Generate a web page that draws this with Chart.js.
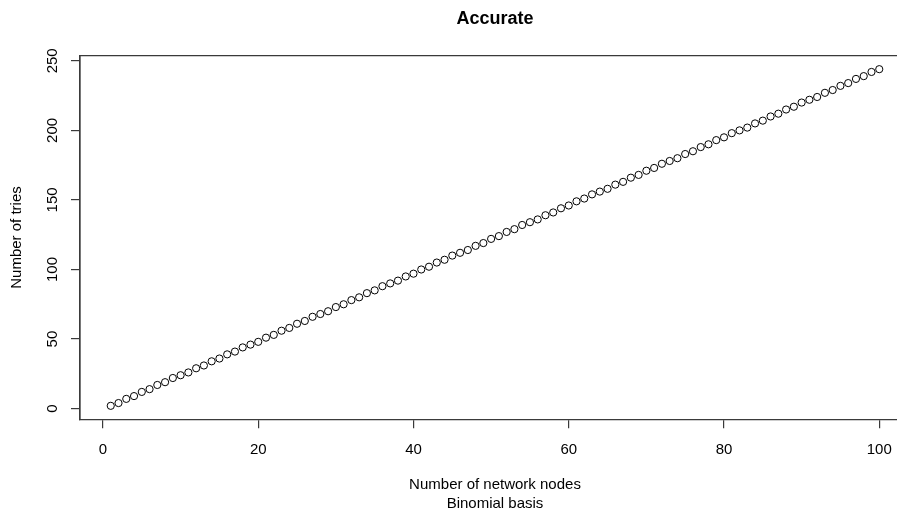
<!DOCTYPE html>
<html>
<head>
<meta charset="utf-8">
<script src="https://cdn.jsdelivr.net/npm/chart.js@4/dist/chart.umd.min.js"></script>
<style>
html,body{margin:0;padding:0;background:#fff;overflow:hidden;}
#wrap{width:915px;height:510px;}
</style>
</head>
<body>
<div id="wrap"><canvas id="c" width="915" height="510"></canvas></div>
<script>
// Number of network nodes (x) and number of tries (y)
const nodes = [];
for (let i = 1; i <= 100; i++) nodes.push(i);
const tries = [
  2, 4, 7, 9, 12, 14, 17, 19, 22, 24,
  26, 29, 31, 34, 36, 39, 41, 44, 46, 48,
  51, 53, 56, 58, 61, 63, 66, 68, 70, 73,
  75, 78, 80, 83, 85, 88, 90, 92, 95, 97,
  100, 102, 105, 107, 110, 112, 114, 117, 119, 122,
  124, 127, 129, 132, 134, 136, 139, 141, 144, 146,
  149, 151, 154, 156, 158, 161, 163, 166, 168, 171,
  173, 176, 178, 180, 183, 185, 188, 190, 193, 195,
  198, 200, 202, 205, 207, 210, 212, 215, 217, 220,
  222, 224, 227, 229, 232, 234, 237, 239, 242, 244
];
const xTicks = [0, 20, 40, 60, 80, 100];
const yTicks = [0, 50, 100, 150, 200, 250];
const titleText = 'Accurate';
const xTitle = ['Number of network nodes', 'Binomial basis'];
const yTitle = 'Number of tries';

const FAM = '"Liberation Sans", Arial, Helvetica, sans-serif';
const LINE = '#3a3a3a';

const boxPlugin = {
  id: 'rbox',
  afterDraw(chart) {
    const {ctx, chartArea: a} = chart;
    ctx.save();
    ctx.strokeStyle = LINE;
    ctx.lineWidth = 1.2;
    ctx.beginPath();
    ctx.moveTo(a.left, a.bottom);
    ctx.lineTo(a.left, a.top);
    ctx.lineTo(a.right + 2, a.top);
    ctx.stroke();
    ctx.restore();
  }
};

const data = {
  datasets: [{
    data: nodes.map((n, i) => ({x: n, y: tries[i]})),
    showLine: false,
    pointStyle: 'circle',
    pointRadius: 3.6,
    pointBorderWidth: 1,
    pointBorderColor: '#000',
    pointBackgroundColor: 'rgba(0,0,0,0)'
  }]
};

new Chart(document.getElementById('c'), {
  type: 'scatter',
  data,
  plugins: [boxPlugin],
  options: {
    responsive: false,
    animation: false,
    events: [],
    layout: {padding: 0},
    plugins: {
      legend: {display: false},
      tooltip: {enabled: false},
      title: {
        display: true,
        text: titleText,
        color: '#000',
        fullSize: false,
        font: {family: FAM, size: 18, weight: 'bold', lineHeight: 1.2},
        padding: {top: 8.2, bottom: 25.9}
      }
    },
    scales: {
      x: {
        type: 'linear',
        position: 'bottom',
        min: -2.96,
        max: 103.96,
        afterBuildTicks: s => { s.ticks = xTicks.map(v => ({value: v})); },
        afterFit: s => { s.height = 90.7; },
        grid: {display: true, drawOnChartArea: false, drawTicks: true, tickLength: 9, color: LINE, lineWidth: 1.2},
        border: {display: true, color: LINE, width: 1.2},
        ticks: {color: '#000', font: {family: FAM, size: 15}, padding: 13, maxRotation: 0, minRotation: 0},
        title: {display: true, text: xTitle, color: '#000', font: {family: FAM, size: 15, lineHeight: 19/15}, padding: {top: 0, bottom: -3.5}}
      },
      y: {
        type: 'linear',
        position: 'left',
        min: -7.68,
        max: 253.68,
        afterBuildTicks: s => { s.ticks = yTicks.map(v => ({value: v})); },
        afterFit: s => { s.width = 80; },
        grid: {display: true, drawOnChartArea: false, drawTicks: true, tickLength: 9, color: LINE, lineWidth: 1.2},
        border: {display: true, color: LINE, width: 1.2},
        ticks: {color: '#000', font: {family: FAM, size: 15}, padding: 6, minRotation: 90, maxRotation: 90, crossAlign: 'center'},
        title: {display: true, text: yTitle, color: '#000', font: {family: FAM, size: 15, lineHeight: 1.2}, padding: {top: 8, bottom: 0}}
      }
    }
  }
});
</script>
</body>
</html>
